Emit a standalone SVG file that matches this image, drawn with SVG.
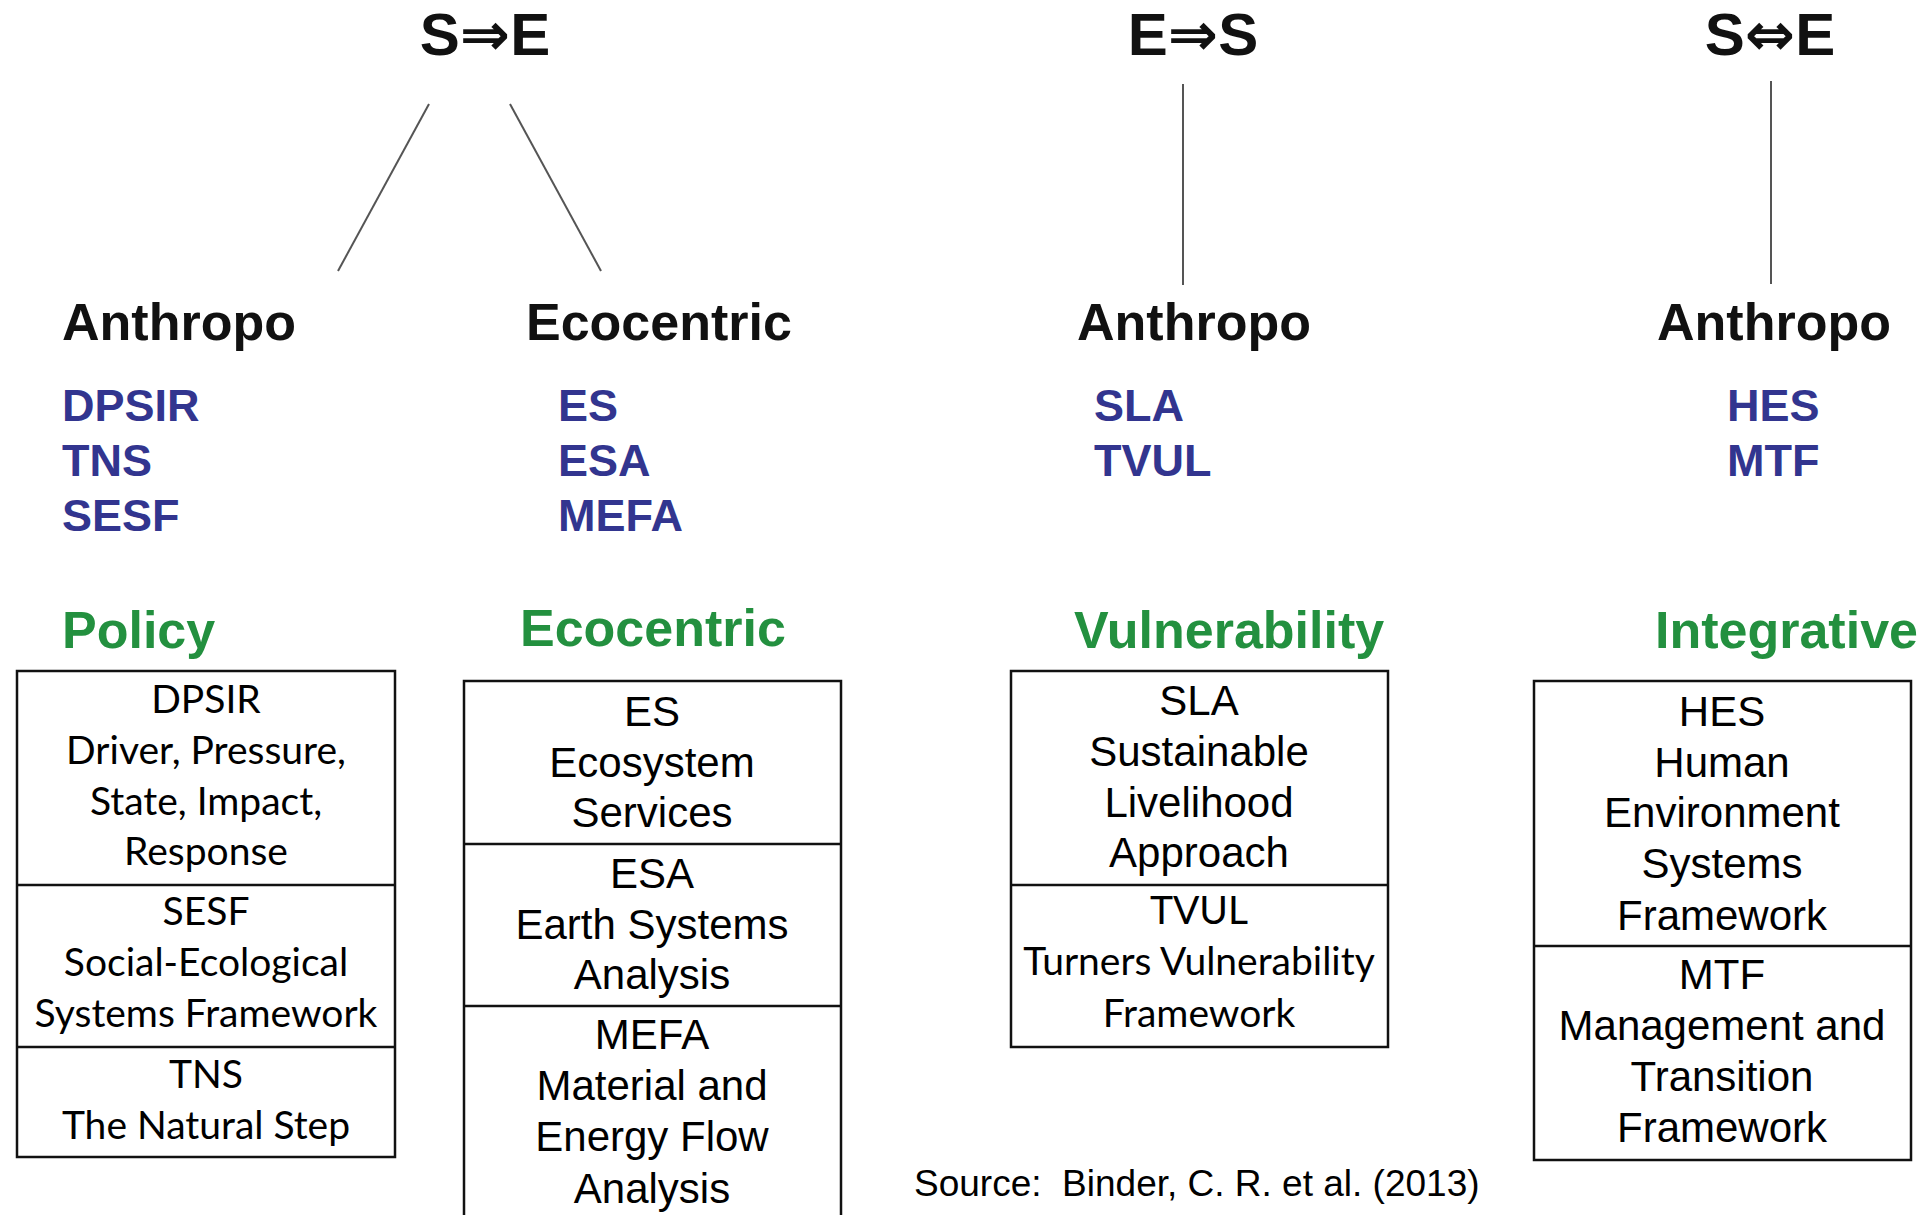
<svg xmlns="http://www.w3.org/2000/svg" width="1929" height="1215" viewBox="0 0 1929 1215">
<style>
.title{font-family:"Liberation Sans","DejaVu Sans",sans-serif;font-weight:bold;font-size:60px;fill:#111;text-anchor:middle}
.arr{font-family:"DejaVu Sans",sans-serif;font-weight:bold}
.cat{font-family:"Liberation Sans",Arial,sans-serif;font-weight:bold;font-size:52px;fill:#111}
.abbr{font-family:"Liberation Sans",Arial,sans-serif;font-weight:bold;font-size:45px;fill:#32358f}
.head{font-family:"Liberation Sans",Arial,sans-serif;font-weight:bold;font-size:52px;fill:#23903f}
.box{fill:#fff;stroke:#111;stroke-width:2.5}
.div{stroke:#111;stroke-width:2.5}
.ta{font-family:"Liberation Sans",Arial,sans-serif;font-size:42px;fill:#000;text-anchor:middle}
.tc{font-family:Lato,"Liberation Sans",sans-serif;font-size:39px;fill:#000;text-anchor:middle}
.src{font-family:"Liberation Sans",Arial,sans-serif;font-size:37px;fill:#000;white-space:pre}
.conn{stroke:#555;stroke-width:2;fill:none}
</style>
<rect width="1929" height="1215" fill="#fff"/>

<g id="connectors">
<line class="conn" x1="429" y1="104" x2="338" y2="271"/>
<line class="conn" x1="510" y1="104" x2="601" y2="271"/>
<line class="conn" x1="1183" y1="84" x2="1183" y2="285"/>
<line class="conn" x1="1771" y1="81" x2="1771" y2="284"/>
</g>

<g id="title-s-to-e"><text class="title" x="485" y="55">S<tspan class="arr">⇒</tspan>E</text></g>
<g id="title-e-to-s"><text class="title" x="1193" y="55">E<tspan class="arr">⇒</tspan>S</text></g>
<g id="title-s-e-both"><text class="title" x="1770" y="55">S<tspan class="arr">⇔</tspan>E</text></g>

<g id="anthropo-1">
<text class="cat" x="62" y="340">Anthropo</text>
<text class="abbr" x="62" y="421">DPSIR</text>
<text class="abbr" x="62" y="476">TNS</text>
<text class="abbr" x="62" y="531">SESF</text>
</g>
<g id="ecocentric-1">
<text class="cat" x="526" y="340">Ecocentric</text>
<text class="abbr" x="558" y="421">ES</text>
<text class="abbr" x="558" y="476">ESA</text>
<text class="abbr" x="558" y="531">MEFA</text>
</g>
<g id="anthropo-2">
<text class="cat" x="1077" y="340">Anthropo</text>
<text class="abbr" x="1094" y="421">SLA</text>
<text class="abbr" x="1094" y="476">TVUL</text>
</g>
<g id="anthropo-3">
<text class="cat" x="1657" y="340">Anthropo</text>
<text class="abbr" x="1727" y="421">HES</text>
<text class="abbr" x="1727" y="476">MTF</text>
</g>

<g id="policy">
<text class="head" x="62" y="648">Policy</text>
<rect class="box" x="17" y="671" width="378" height="486"/>
<line class="div" x1="17" y1="885" x2="395" y2="885"/>
<line class="div" x1="17" y1="1047" x2="395" y2="1047"/>
<text class="tc" x="206" y="713">DPSIR</text>
<text class="tc" x="206" y="764">Driver, Pressure,</text>
<text class="tc" x="206" y="815">State, Impact,</text>
<text class="tc" x="206" y="865">Response</text>
<text class="tc" x="206" y="925">SESF</text>
<text class="tc" x="206" y="976">Social-Ecological</text>
<text class="tc" x="206" y="1027">Systems Framework</text>
<text class="tc" x="206" y="1088">TNS</text>
<text class="tc" x="206" y="1139">The Natural Step</text>
</g>

<g id="ecocentric">
<text class="head" x="520" y="646">Ecocentric</text>
<rect class="box" x="464" y="681" width="377" height="560"/>
<line class="div" x1="464" y1="844" x2="841" y2="844"/>
<line class="div" x1="464" y1="1006" x2="841" y2="1006"/>
<text class="ta" x="652" y="726">ES</text>
<text class="ta" x="652" y="777">Ecosystem</text>
<text class="ta" x="652" y="827">Services</text>
<text class="ta" x="652" y="888">ESA</text>
<text class="ta" x="652" y="939">Earth Systems</text>
<text class="ta" x="652" y="989">Analysis</text>
<text class="ta" x="652" y="1049">MEFA</text>
<text class="ta" x="652" y="1100">Material and</text>
<text class="ta" x="652" y="1151">Energy Flow</text>
<text class="ta" x="652" y="1203">Analysis</text>
</g>

<g id="vulnerability">
<text class="head" x="1074" y="648">Vulnerability</text>
<rect class="box" x="1011" y="671" width="377" height="376"/>
<line class="div" x1="1011" y1="885" x2="1388" y2="885"/>
<text class="ta" x="1199" y="715">SLA</text>
<text class="ta" x="1199" y="766">Sustainable</text>
<text class="ta" x="1199" y="817">Livelihood</text>
<text class="ta" x="1199" y="867">Approach</text>
<text class="tc" x="1199" y="924">TVUL</text>
<text class="tc" x="1199" y="975">Turners Vulnerability</text>
<text class="tc" x="1199" y="1027">Framework</text>
</g>

<g id="integrative">
<text class="head" x="1655" y="648">Integrative</text>
<rect class="box" x="1534" y="681" width="377" height="479"/>
<line class="div" x1="1534" y1="946" x2="1911" y2="946"/>
<text class="ta" x="1722" y="726">HES</text>
<text class="ta" x="1722" y="777">Human</text>
<text class="ta" x="1722" y="827">Environment</text>
<text class="ta" x="1722" y="878">Systems</text>
<text class="ta" x="1722" y="930">Framework</text>
<text class="ta" x="1722" y="989">MTF</text>
<text class="ta" x="1722" y="1040">Management and</text>
<text class="ta" x="1722" y="1091">Transition</text>
<text class="ta" x="1722" y="1142">Framework</text>
</g>

<g id="source"><text class="src" x="914" y="1196" xml:space="preserve">Source:  Binder, C. R. et al. (2013)</text></g>
</svg>
